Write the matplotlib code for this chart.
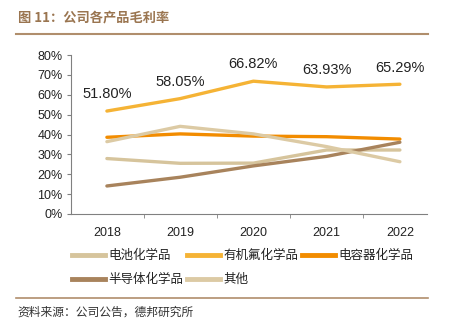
import matplotlib
matplotlib.use("Agg")
import matplotlib.pyplot as plt
from matplotlib.lines import Line2D

plt.rcParams['font.family'] = ['Liberation Sans', 'Noto Sans CJK SC', 'DejaVu Sans']

# data (gross margin, %)
years = ['2018', '2019', '2020', '2021', '2022']
battery = [27.9, 25.5, 25.6, 32.2, 32.2]
fluorine = [51.80, 58.05, 66.82, 63.93, 65.29]
capacitor = [38.6, 40.3, 39.2, 38.9, 37.7]
semi = [14.1, 18.5, 24.2, 29.0, 36.1]
other = [36.4, 44.1, 40.3, 33.9, 26.3]

series_names = ['电池化学品', '有机氟化学品', '电容器化学品', '半导体化学品', '其他']
series_vals = [battery, fluorine, capacitor, semi, other]
colors = ['#d6c49c', '#f5b335', '#f28c00', '#a8835c', '#dccaa4']

fig = plt.figure(figsize=(4.52, 3.26), dpi=100)
ax = fig.add_axes([71 / 452, 1 - 214 / 326, 356 / 452, 159 / 326])

x = list(range(len(years)))
for name, vals, c in zip(series_names, series_vals, colors):
    ax.plot(x, vals, color=c, lw=2.4, label=name, solid_capstyle='round')

for xi, v in zip(x, fluorine):
    ax.annotate(f'{v:.2f}%', (xi, v), xytext=(0, 7), textcoords='offset points',
                ha='center', va='bottom', fontsize=10.5, color='#222222')

ax.set_ylim(0, 80)
ax.set_yticks(range(0, 81, 10))
ax.set_yticklabels([f'{t}%' for t in range(0, 81, 10)], fontsize=9)
ax.set_xlim(-0.49, 4.37)
ax.set_xticks(x)
ax.set_xticklabels(years, fontsize=9)
ax.set_xticks([0.5, 1.5, 2.5, 3.5], minor=True)
ax.tick_params(axis='x', which='major', length=0, pad=9, colors='#222222')
ax.tick_params(axis='x', which='minor', length=3, color='#808080')
ax.tick_params(axis='y', length=3, color='#808080', labelcolor='#222222', pad=3)
for s in ['top', 'right']:
    ax.spines[s].set_visible(False)
for s in ['left', 'bottom']:
    ax.spines[s].set_color('#808080')
    ax.spines[s].set_linewidth(0.8)

# legend is filled column by column, so reorder to read row by row
order = [0, 3, 1, 4, 2]
handles = [Line2D([], [], color=colors[i], lw=3.5) for i in order]
labels = [series_names[i] for i in order]
leg = fig.legend(handles, labels, ncol=3, loc='upper left',
                 bbox_to_anchor=(66 / 452, 1 - 243 / 326), frameon=False,
                 prop={'family': ['Noto Sans CJK SC'], 'size': 9},
                 handlelength=2.6, handletextpad=0.3, columnspacing=0.3,
                 labelspacing=0.85, borderpad=0)
for t in leg.get_texts():
    t.set_color('#222222')

# title and frame lines
fig.text(18 / 452, 1 - 17 / 326, '图 11：公司各产品毛利率', fontsize=9.5, fontweight='bold',
         color='#9a7550', va='center', ha='left',
         family=['Noto Sans CJK SC', 'DejaVu Sans'])
fig.add_artist(Line2D([16 / 452, 428 / 452], [1 - 34 / 326, 1 - 34 / 326],
                      color='#b08e6c', lw=1.5))
fig.add_artist(Line2D([16 / 452, 428 / 452], [1 - 298 / 326, 1 - 298 / 326],
                      color='#b08e6c', lw=1.2))
fig.text(17 / 452, 1 - 312 / 326, '资料来源：公司公告，德邦研究所', fontsize=8.5,
         color='#333333', va='center', ha='left',
         family=['Noto Sans CJK SC', 'DejaVu Sans'])

fig.savefig('out.png', dpi=100)
